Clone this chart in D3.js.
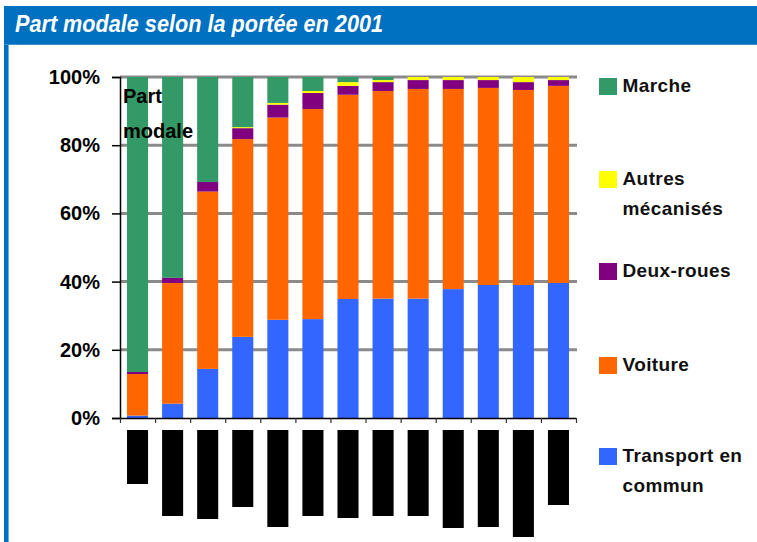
<!DOCTYPE html>
<html>
<head>
<meta charset="utf-8">
<script src="https://cdn.jsdelivr.net/npm/d3@7"></script>
<style>
  html, body { margin: 0; padding: 0; background: #fff; }
  svg { display: block; font-family: "Liberation Sans", Arial, sans-serif; }
</style>
</head>
<body>
<svg id="chart" width="757" height="542"></svg>
<script>
// ---- Data ----
const categories = ["1","2","3","4","5","6","7","8","9","10","11","12","13"];
const transportCommun = [0.7, 4.2, 14.4, 23.8, 28.8, 29.0, 34.9, 35.0, 35.0, 37.8, 39.0, 39.0, 39.6];
const voiture         = [12.2, 35.4, 52.0, 58.0, 59.3, 61.6, 59.9, 60.9, 61.5, 58.7, 57.8, 57.2, 57.8];
const deuxRoues       = [0.6, 1.5, 2.8, 3.2, 3.8, 4.7, 2.6, 2.6, 2.6, 2.6, 2.3, 2.3, 1.7];
const autresMecanises = [0, 0, 0, 0.3, 0.5, 0.6, 1.1, 0.6, 0.9, 0.9, 0.9, 1.5, 0.9];
const marche          = [86.5, 58.9, 30.8, 14.7, 7.6, 4.1, 1.5, 0.9, 0, 0, 0, 0, 0];
const volume          = [54, 86, 89, 77, 97, 86, 88, 86, 86, 98, 97, 107, 75];
const yTicks = [0, 20, 40, 60, 80, 100];
const seriesNames = ["Transport en commun", "Voiture", "Deux-roues", "Autres mécanisés", "Marche"];
const seriesColors = ["#3366FF", "#FF6600", "#800080", "#FFFF00", "#339966"];
const legendOrder = ["Marche", "Autres mécanisés", "Deux-roues", "Voiture", "Transport en commun"];
const legendLines = {
  "Marche": ["Marche"],
  "Autres mécanisés": ["Autres", "mécanisés"],
  "Deux-roues": ["Deux-roues"],
  "Voiture": ["Voiture"],
  "Transport en commun": ["Transport en", "commun"]
};
const titleText = "Part modale selon la portée en 2001";
const innerLabel = ["Part", "modale"];

// ---- Build table ----
const seriesValues = [transportCommun, voiture, deuxRoues, autresMecanises, marche];
const table = categories.map((c, i) => {
  const row = { cat: c };
  seriesNames.forEach((s, j) => row[s] = seriesValues[j][i]);
  return row;
});

const svg = d3.select("#chart");
const color = d3.scaleOrdinal().domain(seriesNames).range(seriesColors);

// ---- Frame ----
svg.append("rect").attr("x", 4).attr("y", 6).attr("width", 753).attr("height", 39).attr("fill", "#0070C0");
svg.append("rect").attr("x", 4).attr("y", 44).attr("width", 753).attr("height", 1).attr("fill", "#3d8fd0");
svg.append("rect").attr("x", 4).attr("y", 45).attr("width", 4).attr("height", 497).attr("fill", "#0070C0");
svg.append("rect").attr("x", 8).attr("y", 45).attr("width", 1).attr("height", 497).attr("fill", "#6fb0e2");

svg.append("text")
  .attr("x", 15).attr("y", 32)
  .attr("fill", "#fff")
  .attr("font-size", 23).attr("font-weight", "bold").attr("font-style", "italic")
  .attr("textLength", 368).attr("lengthAdjust", "spacingAndGlyphs")
  .text(titleText);

// ---- Scales ----
const x = d3.scaleBand().domain(categories).range([120, 576]).paddingInner(0.4).paddingOuter(0.2);
const y = d3.scaleLinear().domain([0, 100]).range([418, 77]);
const hScale = d3.scaleLinear().domain([0, 110]).range([0, 110]);

// gridlines
svg.append("g").selectAll("line").data(yTicks.filter(t => t > 0)).join("line")
  .attr("x1", 120).attr("x2", 577)
  .attr("y1", d => y(d)).attr("y2", d => y(d))
  .attr("stroke", "#8a8a8a").attr("stroke-width", 3);

// stacked bars
const stack = d3.stack().keys(seriesNames)(table);
svg.append("g").selectAll("g").data(stack).join("g")
  .attr("fill", d => color(d.key))
  .selectAll("rect").data(d => d).join("rect")
  .attr("x", d => x(d.data.cat))
  .attr("width", x.bandwidth())
  .attr("y", d => y(d[1]))
  .attr("height", d => Math.max(0, y(d[0]) - y(d[1])));

// Y axis
const yAxis = svg.append("g").attr("transform", "translate(120,0)")
  .call(d3.axisLeft(y).tickValues(yTicks).tickFormat(d => d + "%").tickSize(8).tickPadding(12));
yAxis.select(".domain").attr("stroke", "#000").attr("stroke-width", 1.5);
yAxis.selectAll(".tick line").attr("stroke", "#000").attr("stroke-width", 1.5);
yAxis.selectAll(".tick text")
  .attr("font-size", 20).attr("font-weight", "bold").attr("fill", "#000")
  .attr("font-family", "Liberation Sans, Arial, sans-serif");

// X axis with boundary ticks
const xb = d3.scaleLinear().domain([0, categories.length]).range([120, 576]);
const xAxis = svg.append("g").attr("transform", "translate(0,418)")
  .call(d3.axisBottom(xb).ticks(categories.length).tickFormat("").tickSize(5).tickSizeOuter(0));
xAxis.select(".domain").attr("stroke", "#000").attr("stroke-width", 1.5);
xAxis.selectAll(".tick line").attr("stroke", "#333").attr("stroke-width", 1.2);

// black bars below
svg.append("g").selectAll("rect").data(volume).join("rect")
  .attr("x", (d, i) => x(categories[i]))
  .attr("width", x.bandwidth())
  .attr("y", 430)
  .attr("height", d => hScale(d))
  .attr("fill", "#000");

// inner label
svg.append("g").selectAll("text").data(innerLabel).join("text")
  .attr("x", 123).attr("y", (d, i) => 103 + i * 35)
  .attr("font-size", 20).attr("font-weight", "bold").attr("fill", "#000")
  .text(d => d);

// legend
const legendY = { "Marche": 78, "Autres mécanisés": 171, "Deux-roues": 263, "Voiture": 357, "Transport en commun": 448 };
const lg = svg.append("g").selectAll("g").data(legendOrder).join("g")
  .attr("transform", d => `translate(599,${legendY[d]})`);
lg.append("rect").attr("width", 18).attr("height", 17).attr("fill", d => color(d));
lg.selectAll("text").data(d => legendLines[d]).join("text")
  .attr("x", 23.5).attr("y", (d, i) => 13.5 + i * 30.5)
  .attr("font-size", 19).attr("font-weight", "bold").attr("fill", "#111")
  .attr("letter-spacing", 0.4)
  .text(d => d);
</script>
</body>
</html>
